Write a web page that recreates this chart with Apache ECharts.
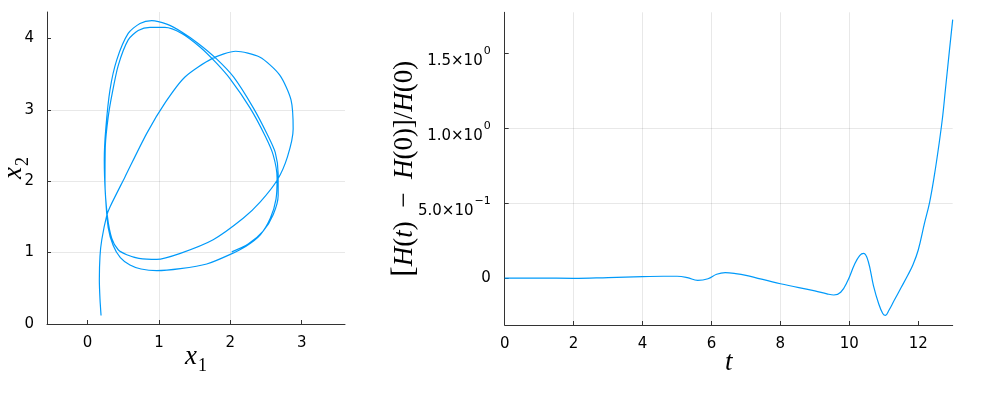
<!DOCTYPE html>
<html>
<head>
<meta charset="utf-8">
<script src="https://cdn.jsdelivr.net/npm/echarts@6/dist/echarts.min.js"></script>
<style>html,body{margin:0;padding:0;background:#fff;}#c{width:1000px;height:400px;}</style>
</head>
<body>
<div id="c"></div>
<script>
// Phase trajectory (x1, x2)
const phaseX1 = [0.19,0.175,0.166,0.175,0.2,0.27,0.315,0.525,0.83,1.095,1.365,1.75,2.075,2.41,2.69,2.85,2.88,2.80,2.66,2.42,2.18,1.76,1.30,0.97,0.72,0.55,0.43,0.34,0.28,0.245,0.25,0.29,0.34,0.43,0.57,0.71,0.875,1.085,1.32,1.575,1.8,2.0,2.28,2.49,2.60,2.655,2.64,2.56,2.42,2.22,2.0,1.67,1.30,0.97,0.75,0.595,0.46,0.36,0.29,0.25,0.235,0.255,0.315,0.41,0.57,0.735,0.9,1.11,1.32,1.55,1.8,2.045,2.32,2.52,2.63,2.67,2.67,2.6,2.46,2.25,2.02];
const phaseX2 = [0.12,0.35,0.62,0.95,1.18,1.52,1.64,2.06,2.67,3.11,3.46,3.72,3.82,3.74,3.49,3.14,2.73,2.34,2.02,1.71,1.48,1.18,0.99,0.905,0.92,0.97,1.04,1.2,1.5,2.0,2.5,2.9,3.2,3.62,3.98,4.11,4.155,4.155,4.07,3.88,3.66,3.43,3.02,2.63,2.37,2.05,1.75,1.48,1.25,1.09,0.975,0.84,0.775,0.747,0.77,0.826,0.93,1.1,1.35,1.83,2.30,2.72,3.28,3.70,4.07,4.21,4.25,4.20,4.09,3.93,3.72,3.46,3.03,2.65,2.40,2.1,1.8,1.53,1.3,1.12,1.01];

// Relative energy error vs t
const timeT = [0,1,2,3,4,4.6,5.0,5.3,5.6,5.9,6.15,6.4,6.7,7.0,8.0,9.0,9.35,9.55,9.75,9.95,10.15,10.3,10.42,10.55,10.7,10.85,10.97,11.05,11.15,11.3,11.5,11.7,11.85,12.0,12.18,12.33,12.47,12.62,12.71,12.79,12.91,13.0];
const energyErr = [0,0,-0.002,0.003,0.009,0.012,0.012,0.003,-0.016,-0.005,0.025,0.036,0.03,0.018,-0.038,-0.085,-0.105,-0.113,-0.095,-0.02,0.09,0.15,0.164,0.11,-0.05,-0.17,-0.236,-0.249,-0.215,-0.15,-0.065,0.02,0.09,0.187,0.364,0.505,0.687,0.92,1.08,1.26,1.527,1.722];

const phaseTicksX = [0,1,2,3];
const phaseTicksY = [0,1,2,3,4];
const timeTicks = [0,2,4,6,8,10,12];
const errTicks = [0,0.5,1,1.5];
const errTickMant = {0.5:'5.0', 1:'1.0', 1.5:'1.5'};
const errTickExp = {0.5:'−1', 1:'0', 1.5:'0'};

const LINE = '#009AFA';
const AX = '#333333';
const GRID = 'rgba(0,0,0,0.09)';
const tickFont = {fontFamily:'DejaVu Sans', fontSize:15, color:'#000'};
const serif = 'Liberation Serif';

function baseAxis(ticks) {
  return {
    type:'value',
    nameMoveOverlap:false,
    axisLine:{show:true, onZero:false, lineStyle:{color:AX, width:1}},
    axisTick:{show:true, inside:true, length:4, lineStyle:{color:AX}, customValues:ticks},
    axisLabel:Object.assign({customValues:ticks, showMinLabel:true, showMaxLabel:true}, tickFont),
    splitLine:{show:true, showMinLine:false, showMaxLine:false, lineStyle:{color:GRID, width:1}}
  };
}
const subRich = {
  i:{fontFamily:serif, fontStyle:'italic', fontSize:27, color:'#000', verticalAlign:'top', lineHeight:27},
  s:{fontFamily:serif, fontSize:18, color:'#000', verticalAlign:'top', lineHeight:18, padding:[14,0,0,1]}
};

const chart = echarts.init(document.getElementById('c'), null, {renderer:'canvas'});
const xA0 = baseAxis(phaseTicksX);
Object.assign(xA0, {gridIndex:0, min:-0.567, max:3.606, splitNumber:4,
  name:'{i|x}{s|1}', nameLocation:'middle', nameGap:19, nameTextStyle:{rich:subRich}});
xA0.axisLabel.margin = 12;
const yA0 = baseAxis(phaseTicksY);
Object.assign(yA0, {gridIndex:0, min:0, max:4.37, splitNumber:4,
  name:'{i|x}{s|2}', nameLocation:'middle', nameGap:20, nameRotate:90, nameTextStyle:{rich:subRich}});
yA0.axisLabel.margin = 13;

const xA1 = baseAxis(timeTicks);
Object.assign(xA1, {gridIndex:1, min:0, max:13, splitNumber:6,
  name:'t', nameLocation:'middle', nameGap:24,
  nameTextStyle:{fontFamily:serif, fontStyle:'italic', fontSize:27, color:'#000'}});
xA1.axisLabel.margin = 12;
const yA1 = baseAxis(errTicks);
Object.assign(yA1, {gridIndex:1, min:-0.313, max:1.771, splitNumber:5,
  name:'{b|[}{i|H}{n|(}{i|t}{n|)\u2002−\u2002}{i|H}{n|(0)]/}{i|H}{n|(0)}', nameLocation:'middle', nameGap:84, nameRotate:90,
  nameTextStyle:{rich:{
    b:{fontFamily:serif, fontSize:31, color:'#000'},
    i:{fontFamily:serif, fontStyle:'italic', fontSize:27, color:'#000'},
    n:{fontFamily:serif, fontSize:27, color:'#000'}}}});
yA1.axisLabel = Object.assign({}, yA1.axisLabel, {
  margin:14,
  formatter:function(v){ if (Math.abs(v) < 1e-9) return '{z|0}'; const k = Math.round(v*10)/10; return '{m|' + errTickMant[k] + '×10}{e|' + errTickExp[k] + '}'; },
  rich:{
    z:{fontFamily:'DejaVu Sans', fontSize:15, color:'#000'},
    m:{fontFamily:'DejaVu Sans', fontSize:15, color:'#000', verticalAlign:'top', lineHeight:15, padding:[8,0,8,0]},
    e:{fontFamily:'DejaVu Sans', fontSize:11, color:'#000', verticalAlign:'top', lineHeight:11, padding:[0,0,0,1]}
  }
});

const phaseData = phaseX1.map((x,i)=>[x, phaseX2[i]]);
const errData = timeT.map((t,i)=>[t, energyErr[i]]);

chart.setOption({
  backgroundColor:'#fff',
  animation:false,
  grid:[
    {left:47, top:12, width:298, height:312, containLabel:false, outerBoundsMode:'none'},
    {left:504.7, top:12.3, width:448, height:312.7, containLabel:false, outerBoundsMode:'none'}
  ],
  xAxis:[xA0, xA1],
  yAxis:[yA0, yA1],
  series:[
    {type:'line', xAxisIndex:0, yAxisIndex:0, data:phaseData, showSymbol:false, smooth:0.25,
     lineStyle:{color:LINE, width:1.2}},
    {type:'line', xAxisIndex:1, yAxisIndex:1, data:errData, showSymbol:false, smooth:0.4,
     lineStyle:{color:LINE, width:1.2}}
  ]
});
</script>
</body>
</html>
